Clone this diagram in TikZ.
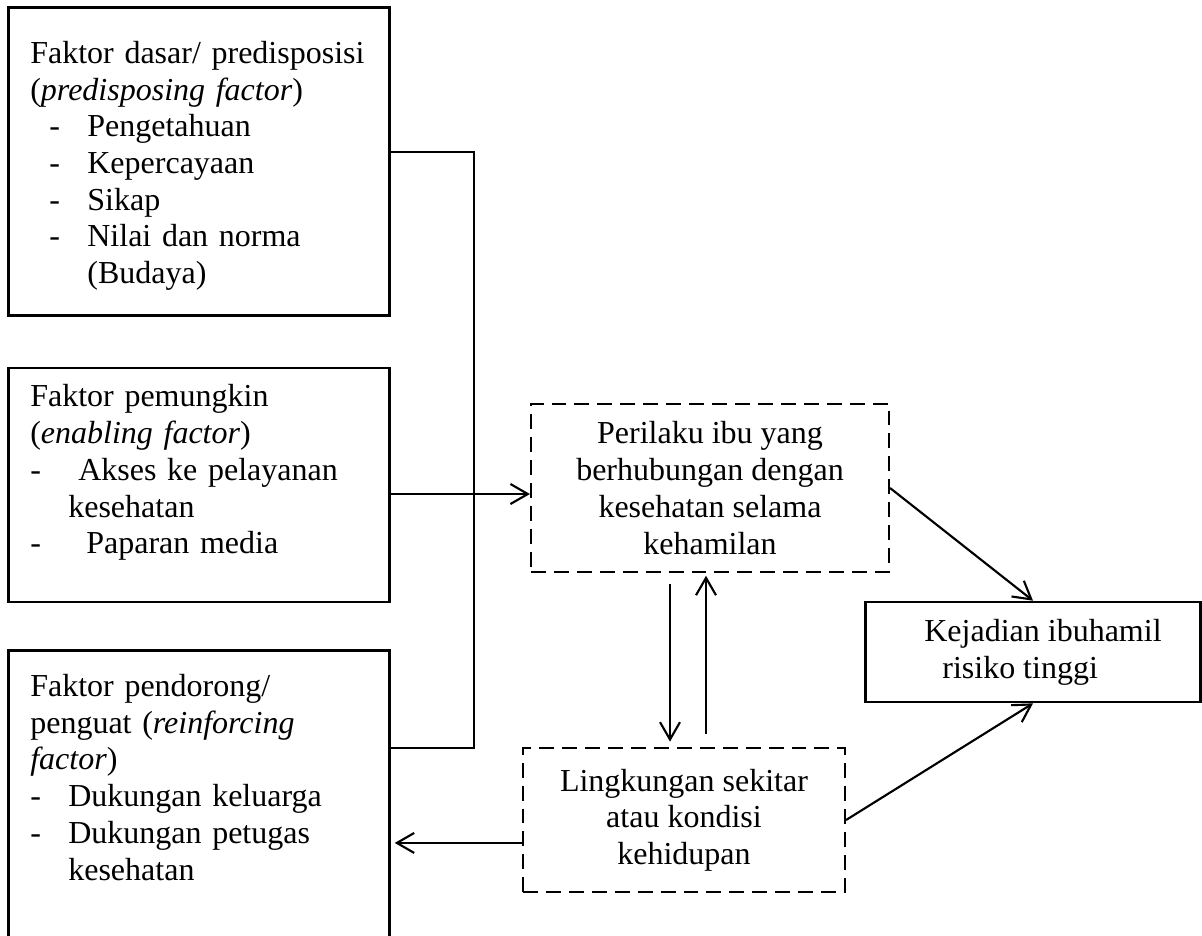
\documentclass[tikz,border=0pt]{standalone}
\usepackage{fontspec}
\setmainfont{Liberation Serif}
\usepackage{tikz}
\usetikzlibrary{arrows.meta}

\newcommand{\butir}[3]{\hspace*{#1}\makebox[#2][l]{-}#3}

\begin{document}
\begin{tikzpicture}[x=0.375pt, y=-0.375pt]

\useasboundingbox (0,0) rectangle (1202,935);
\clip (0,0) rectangle (1202,935);

% Define block styles
\tikzstyle{faktor}=[draw, line width=1pt, anchor=north west, text width=126.4pt,
  align=left, inner xsep=8.25pt, inner ysep=0pt, font=\fontsize{12}{13.76}\selectfont]
\tikzstyle{perilaku}=[draw, line width=0.8pt, dash pattern=on 5.6pt off 3pt,
  align=center, font=\fontsize{12}{13.76}\selectfont]
\tikzstyle{hasil}=[draw, line width=1pt, align=left, minimum width=125.6pt,
  minimum height=37.5pt, font=\fontsize{12}{13.76}\selectfont]
\tikzstyle{garis}=[draw, line width=0.6pt]
\tikzstyle{panah}=[draw, line width=0.8pt, -{Straight Barb[length=6.5pt,width=7.5pt]}]

% Draw diagram elements
\path node[faktor, text height=21pt, text depth=94.5pt] at (7,6) (b1) {%
Faktor dasar/ predisposisi\\
(\textit{predisposing factor})\\
\butir{7.1pt}{14.3pt}{Pengetahuan}\\
\butir{7.1pt}{14.3pt}{Kepercayaan}\\
\butir{7.1pt}{14.3pt}{Sikap}\\
\butir{7.1pt}{14.3pt}{Nilai dan norma}\\
\hspace*{21.4pt}(Budaya)};

\path (b1.south west)+(0,50) node[faktor, text height=14.6pt, text depth=73.1pt] (b2) {%
Faktor pemungkin\\
(\textit{enabling factor})\\
\butir{0pt}{18pt}{Akses ke pelayanan}\\
\hspace*{14.25pt}kesehatan\\
\butir{0pt}{21pt}{Paparan media}};

\path (b2.south west)+(0,46) node[faktor, text height=17.25pt, text depth=110pt] (b3) {%
Faktor pendorong/\\
penguat (\textit{reinforcing}\\
\textit{factor})\\
\butir{0pt}{14.25pt}{Dukungan keluarga}\\
\butir{0pt}{14.25pt}{Dukungan petugas}\\
\hspace*{14.25pt}kesehatan};

\path node[perilaku, minimum width=134.25pt, minimum height=63pt] at (710,488) (pr) {%
Perilaku ibu yang\\berhubungan dengan\\kesehatan selama\\kehamilan};

\path node[perilaku, minimum width=120.75pt, minimum height=54pt] at (684,820) (lk) {%
Lingkungan sekitar\\atau kondisi\\kehidupan};

\path node[hasil] at (1033,652) (kj) {%
\hspace*{7.5pt}Kejadian ibuhamil\\\hspace*{14.25pt}risiko tinggi};

% Connectors
\coordinate (s1) at (474,152);
\coordinate (s2) at (474,748);
\path[garis] (b1.east |- s1) -- (s1) -- (s2) -- (b3.east |- s2);

\coordinate (m2) at ([yshift=-2.25pt]pr.west);
\path[panah] (b2.east |- m2) -- (m2);

\path[panah] (pr.east) -- (kj.north);
\path[panah] (lk.east) -- (kj.south);

\coordinate (d1) at ([xshift=-5.25pt]lk.north);
\path[panah, shorten <=4pt, shorten >=2pt] (d1 |- pr.south) -- (d1);
\coordinate (u1) at ([xshift=-1.5pt]pr.south);
\path[panah, shorten <=5pt, shorten >=1pt] (u1 |- lk.north) -- (u1);

\coordinate (k1) at ([yshift=-8.6pt]lk.west);
\path[panah, shorten >=1.5pt] (k1) -- (b3.east |- k1);

\end{tikzpicture}
\end{document}
